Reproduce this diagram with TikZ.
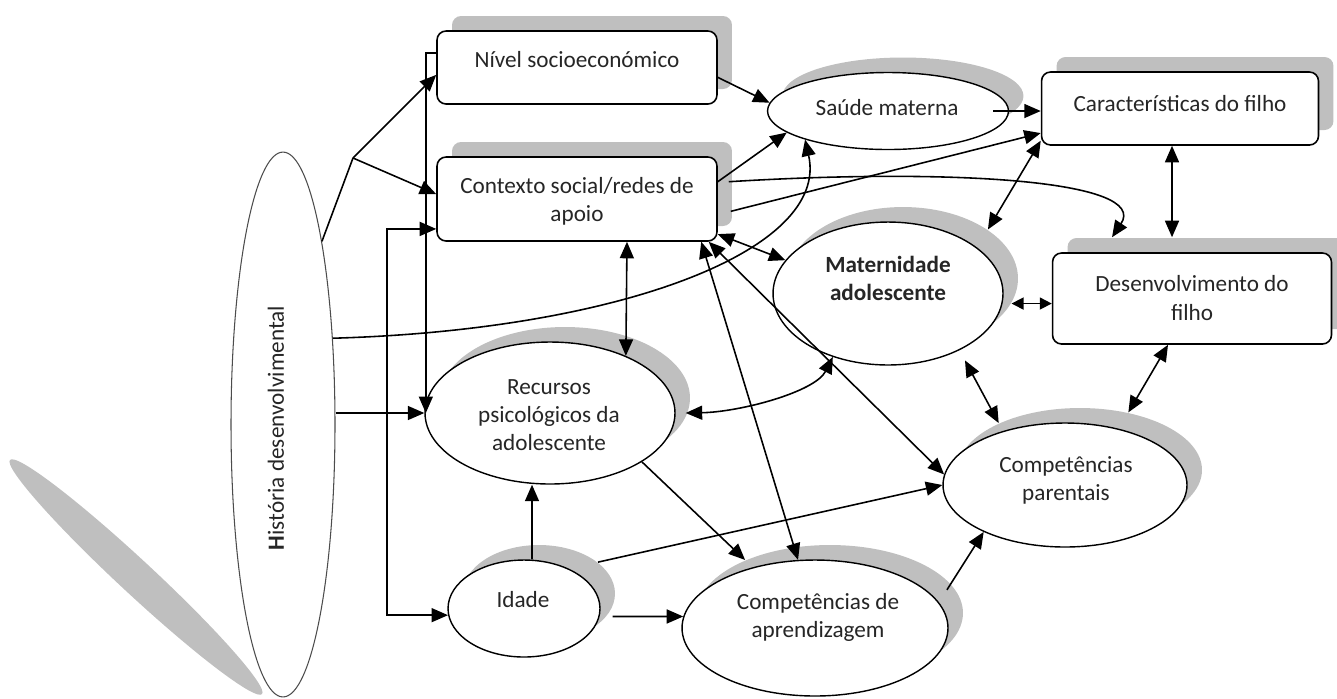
\documentclass[tikz,border=0pt]{standalone}
\usepackage{fontspec}
\setmainfont{Carlito}
\usetikzlibrary{shapes.geometric,arrows.meta,shadows}
\definecolor{shadowgray}{RGB}{191,191,191}
\definecolor{inkgray}{RGB}{38,38,38}

\begin{document}
\begin{tikzpicture}[x=0.02cm,y=-0.02cm,line width=0.9pt,
  >={Triangle[length=0.33cm,width=0.28cm]},
  raised/.style={drop shadow={shadow xshift=0.3cm,shadow yshift=0.3cm,fill=shadowgray,opacity=1}},
  box/.style={draw,rounded corners=0.18cm,fill=white,raised,inner sep=0pt},
  oval/.style={draw,ellipse,fill=white,raised,inner sep=0pt,line width=0.8pt},
  txt/.style={align=center,inner sep=0pt,text=inkgray,font=\fontsize{13.2}{16}\selectfont},
  shortarr/.style={{Triangle[length=0.24cm,width=0.24cm]}-{Triangle[length=0.24cm,width=0.24cm]}}]

\useasboundingbox (0,0) rectangle (1337,698);

% long ellipse on the left and its shadow
\fill[shadowgray,rotate around={-42.9:(136,577)}] (136,577) ellipse (172 and 17);
\node[draw=black!70,line width=0.6pt,ellipse,fill=white,inner sep=0pt,
      minimum width=2.08cm,minimum height=10.9cm] (hist) at (283,424.5) {};
\node[txt,rotate=90] (histT) at (276,428) {\textbf{H}istória desenvolvimental};

% boxes
\node[box,minimum width=5.6cm,minimum height=1.46cm] (nivel) at (577,67.5) {};
\node[txt] (nivelT) at (577,60) {Nível socioeconómico};
\node[box,minimum width=5.6cm,minimum height=1.68cm] (contexto) at (577,199) {};
\node[txt] (contextoT) at (577,201) {Contexto social/redes de\\apoio};
\node[box,minimum width=5.54cm,minimum height=1.46cm] (caract) at (1180,108.5) {};
\node[txt] (caractT) at (1180,104) {Características do filho};
\node[box,minimum width=5.58cm,minimum height=1.82cm] (desenv) at (1192,298.5) {};
\node[txt] (desenvT) at (1192,298) {Desenvolvimento do\\filho};

% ellipses
\node[oval,minimum width=4.82cm,minimum height=1.54cm] (saude) at (888,111) {};
\node[txt] (saudeT) at (887,108) {Saúde materna};
\node[oval,minimum width=4.6cm,minimum height=2.86cm] (mat) at (888,293.5) {};
\node[txt,font=\fontsize{13.2}{16}\selectfont\bfseries] (matT) at (888,278) {Maternidade\\adolescente};
\node[oval,minimum width=5cm,minimum height=2.84cm] (recursos) at (550,413) {};
\node[txt] (recursosT) at (549,415) {Recursos\\psicológicos da\\adolescente};
\node[oval,minimum width=3.04cm,minimum height=1.94cm] (idade) at (524,608.5) {};
\node[txt] (idadeT) at (523,600) {Idade};
\node[oval,minimum width=5.32cm,minimum height=2.72cm] (aprend) at (815,628) {};
\node[txt] (aprendT) at (818,617) {Competências de\\aprendizagem};
\node[oval,minimum width=4.88cm,minimum height=2.48cm] (parent) at (1065,485) {};
\node[txt] (parentT) at (1066,480) {Competências\\parentais};

% from the long ellipse
\coordinate (fork) at (353,158);
\draw (hist.78) -- (fork);
\draw[->] (fork) -- (nivel.183);
\draw[->] (fork) -- (contexto.178);
\draw[->] (nivel.174) -| ([xshift=0.03cm]recursos.west);
\draw[<->] (contexto.192) -- ++(-49,0) |- (idade.185);
\draw[->] (hist.east |- recursos.west) -- (recursos.west);
\draw[->] (hist.60) .. controls (620,330) and (830,250) .. (saude.199);

% upper part
\draw[->] (nivel.356) -- (saude.176);
\draw[->] (contexto.7) -- (saude.192);
\draw[->] ([xshift=0.26cm]contexto.355) -- (caract.190);
\draw[->] ([xshift=0.22cm]contexto.7) .. controls (950,168) and (1150,180) .. ([xshift=-1.6cm,yshift=0.3cm]desenv.north);
\draw[->] ([xshift=-0.32cm]saude.east) -- (saude.east -| caract.west);
\draw[<->] (caract.193) -- ([xshift=0.3cm,yshift=0.3cm]mat.30);
\draw[<->] ([xshift=-0.16cm]caract.south) -- ([xshift=-0.4cm,yshift=0.3cm]desenv.north);
\draw[shortarr] ([xshift=0.18cm]mat.355) -- (mat.355 -| desenv.west);
\draw[<->] (contexto.346) -- (mat.162);
\draw[<->] ([xshift=1cm]contexto.south) -- (recursos.37);
\draw[<->] (mat.229) .. controls (815,392) and (740,412) .. ([xshift=0.2cm]recursos.east);
\draw[<->] (contexto.341) -- (aprend.104);
\draw[<->] (contexto.342) -- (parent.175);
\draw[<->] ([yshift=-0.26cm]mat.325) -- ([xshift=0.3cm,yshift=0.3cm]parent.150);
\draw[<->] ([xshift=-0.48cm]desenv.south) -- ([xshift=0.3cm,yshift=0.3cm]parent.50);

% lower part
\draw[->] (recursos.332) -- ([xshift=0.3cm,yshift=0.3cm]aprend.148);
\draw[->] ([xshift=0.16cm]idade.north) -- ([xshift=-0.36cm]recursos.south);
\draw[->] ([xshift=0.3cm,yshift=0.3cm]idade.28) -- (parent.west);
\draw[->] ([xshift=0.26cm]idade.354) -- (aprend.175);
\draw[->] ([xshift=0.2cm,yshift=0.2cm]aprend.13) -- (parent.210);
\end{tikzpicture}
\end{document}
